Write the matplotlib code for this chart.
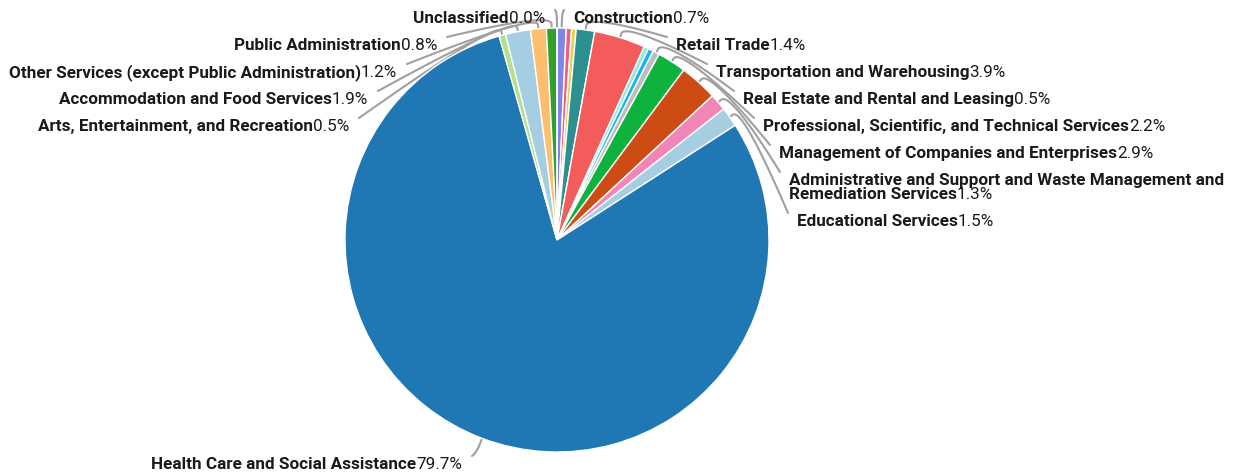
import matplotlib
matplotlib.use('Agg')
import matplotlib.pyplot as plt
import numpy as np

# Employment share by NAICS sector (percent), clockwise from 12 o'clock
sectors = [
    "Construction",
    "Manufacturing",
    "Wholesale Trade",
    "Retail Trade",
    "Transportation and Warehousing",
    "Information",
    "Finance and Insurance",
    "Real Estate and Rental and Leasing",
    "Professional, Scientific, and Technical Services",
    "Management of Companies and Enterprises",
    "Administrative and Support and Waste Management and\nRemediation Services",
    "Educational Services",
    "Health Care and Social Assistance",
    "Arts, Entertainment, and Recreation",
    "Accommodation and Food Services",
    "Other Services (except Public Administration)",
    "Public Administration",
    "Unclassified",
]
shares = [0.7, 0.4, 0.35, 1.4, 3.9, 0.35, 0.4, 0.5, 2.2, 2.9,
          1.3, 1.5, 79.7, 0.5, 1.9, 1.2, 0.8, 0.0]

colors = ['#8085e9', '#f15c80', '#e4d354', '#2b908f', '#f45b5b', '#91e8e1',
          '#19b3f0', '#bdbdbd', '#0db33d', '#cc4c14', '#f384b6', '#a6cee3',
          '#1f77b4', '#b2df8a', '#a6cee3', '#fdbf6f', '#33a02c', '#e31a1c']

# label anchors in pixels (x, y, side); None -> label not shown
label_pos = [
    (573, 17, 'r'), None, None, (676, 44, 'r'), (716, 71, 'r'), None, None,
    (743, 98, 'r'), (763, 125, 'r'), (779, 152, 'r'), (789, 179, 'r'),
    (797, 220, 'r'), (462, 463, 'l'), (349, 125, 'l'), (368, 98, 'l'),
    (397, 71, 'l'), (437, 44, 'l'), (545, 17, 'l'),
]

W, H = 1236, 472
CX, CY, R = 557, 240, 212
TEXT = '#1a1a1a'
LINE = '#a0a0a0'
FS = 12.35

plt.rcParams['font.family'] = ['Roboto', 'DejaVu Sans']

fig = plt.figure(figsize=(W / 100, H / 100), dpi=100)
ax = fig.add_axes([0, 0, 1, 1])
wedges, _ = ax.pie(shares, colors=colors, startangle=-90, counterclock=True,
                   center=(CX, CY), radius=R,
                   wedgeprops=dict(edgecolor='white', linewidth=1))
ax.set_xlim(0, W)
ax.set_ylim(H, 0)
ax.set_aspect('equal')
ax.axis('off')

renderer = fig.canvas.get_renderer()
inv = ax.transData.inverted()
total = sum(shares)


def x_of(t, edge):
    bb = t.get_window_extent(renderer=renderer)
    return inv.transform((bb.x1 if edge == 1 else bb.x0, bb.y0))[0]


for w, name, val, pos in zip(wedges, sectors, shares, label_pos):
    if pos is None:
        continue
    lx, ly, side = pos
    pct = f"{val / total * 100:.1f}%"
    lines = name.split('\n')
    base = ly + 6
    # text
    for i, ln in enumerate(lines):
        yb = base + 14 * i
        last = i == len(lines) - 1
        if side == 'r':
            t = ax.text(lx, yb, ln, ha='left', va='baseline', fontsize=FS,
                        fontweight='bold', color=TEXT)
            if last:
                ax.text(x_of(t, 1), yb, pct, ha='left', va='baseline',
                        fontsize=FS, color=TEXT)
        else:
            p = ax.text(lx, yb, pct, ha='right', va='baseline', fontsize=FS,
                        color=TEXT)
            ax.text(x_of(p, 0), yb, ln, ha='right', va='baseline',
                    fontsize=FS, fontweight='bold', color=TEXT)

    # leader line
    th = np.deg2rad((w.theta1 + w.theta2) / 2)
    d = np.array([np.cos(th), np.sin(th)])
    c = np.array([CX, CY])
    a = c + R * d
    tk = c + (R + 4) * d
    ctrl = c + (R + 16) * d
    end = np.array([lx - 9 if side == 'r' else lx + 10, ly - 7])
    s = np.linspace(0, 1, 40)[:, None]
    curve = (1 - s) ** 2 * tk + 2 * (1 - s) * s * ctrl + s ** 2 * end
    pts = np.vstack([a, curve])
    ax.plot(pts[:, 0], pts[:, 1], color=LINE, linewidth=1.5,
            solid_capstyle='round', zorder=0.5)

fig.savefig('out.png', dpi=100, facecolor='white')
